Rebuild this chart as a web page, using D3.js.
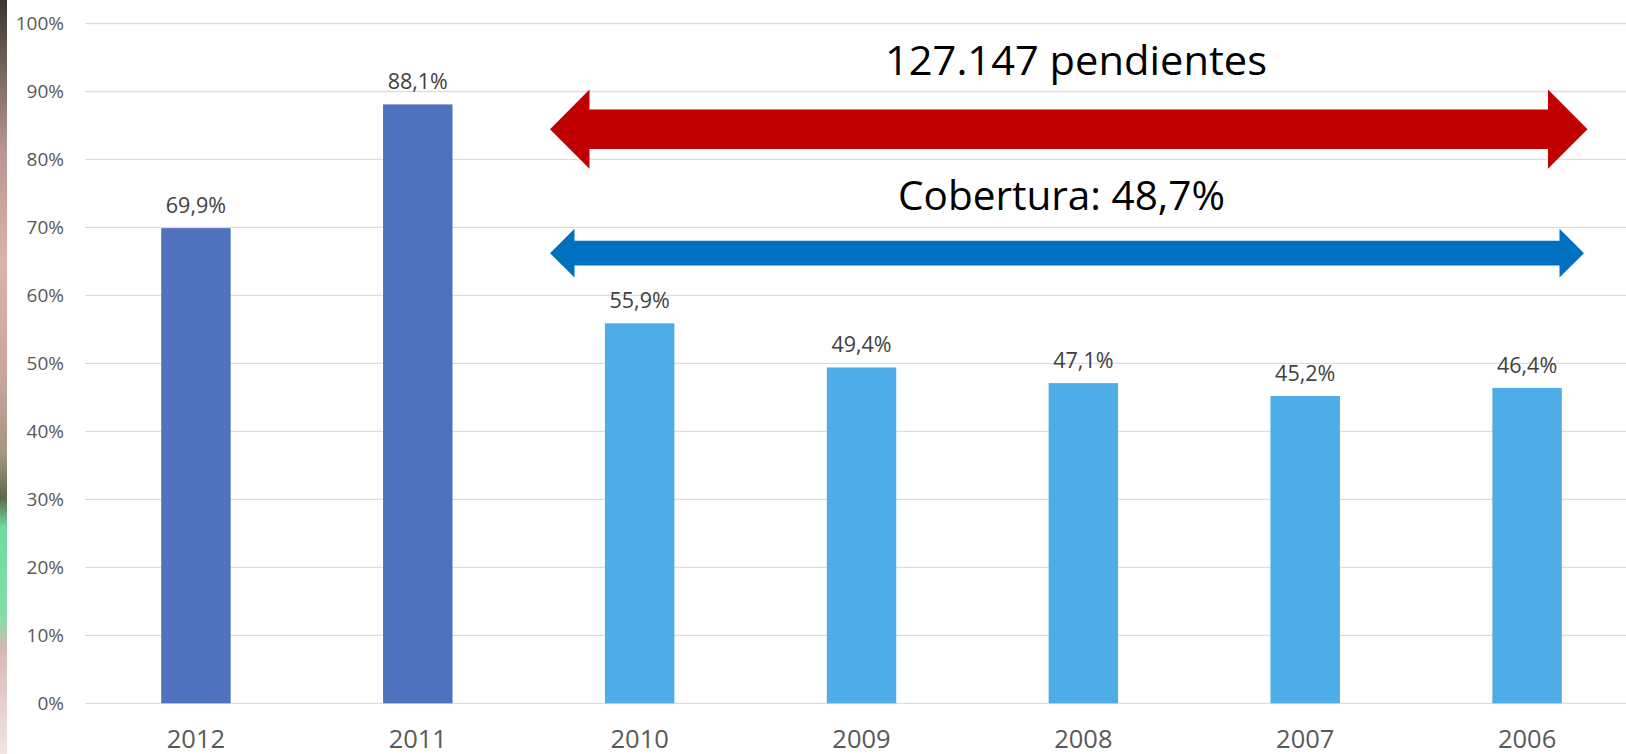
<!DOCTYPE html>
<html>
<head>
<meta charset="utf-8">
<script src="https://cdn.jsdelivr.net/npm/d3@7"></script>
<style>
  html, body { margin: 0; padding: 0; background: #fff; }
  svg { display: block; }
</style>
</head>
<body>
<svg id="chart" width="1626" height="754"></svg>
<script>
// ---- data ----
const categories = ["2012", "2011", "2010", "2009", "2008", "2007", "2006"];
const values = [0.699, 0.881, 0.559, 0.494, 0.471, 0.452, 0.464];
const valueLabels = ["69,9%", "88,1%", "55,9%", "49,4%", "47,1%", "45,2%", "46,4%"];
const groups = ["dark", "dark", "light", "light", "light", "light", "light"];
const yTicks = [0, 0.1, 0.2, 0.3, 0.4, 0.5, 0.6, 0.7, 0.8, 0.9, 1.0];
const yTickLabels = ["0%", "10%", "20%", "30%", "40%", "50%", "60%", "70%", "80%", "90%", "100%"];
const annotations = ["127.147 pendientes", "Cobertura: 48,7%"];

// ---- layout ----
const W = 1626, H = 754;
const plotLeft = 85, plotRight = 1638, plotTop = 23.5, plotBottom = 703.3;
const colors = { dark: "#5071BE", light: "#4EACE6" };

const svg = d3.select("#chart");

// left photo edge strip (decorative)
const defs = svg.append("defs");
const grad = defs.append("linearGradient").attr("id", "edge").attr("x1", 0).attr("y1", 0).attr("x2", 0).attr("y2", 1);
[[0, "#3b342e"], [0.08, "#6d5f55"], [0.2, "#b89890"], [0.35, "#d9b3ab"], [0.5, "#c8a69c"], [0.6, "#a79683"], [0.66, "#5f6a4e"], [0.7, "#6fdc9c"], [0.82, "#86dca6"], [0.86, "#d8b8b4"], [1, "#f2e4e2"]]
  .forEach(([o, c]) => grad.append("stop").attr("offset", o).attr("stop-color", c));
svg.append("rect").attr("x", 0).attr("y", 0).attr("width", 7).attr("height", H).attr("fill", "url(#edge)");

const x = d3.scaleBand().domain(categories).range([plotLeft, plotRight]).paddingInner(0.687).paddingOuter(0.3435);
const y = d3.scaleLinear().domain([0, 1]).range([plotBottom, plotTop]);

// gridlines
svg.append("g").selectAll("line").data(yTicks).join("line")
  .attr("x1", plotLeft).attr("x2", W)
  .attr("y1", d => y(d)).attr("y2", d => y(d))
  .attr("stroke", "#dedede").attr("stroke-width", 1.3);

// y axis labels
const yAxis = d3.axisLeft(y).tickValues(yTicks).tickSize(0).tickPadding(0)
  .tickFormat((d, i) => yTickLabels[i]);
const gy = svg.append("g").attr("transform", "translate(64,0)").call(yAxis);
gy.select(".domain").remove();
gy.selectAll("text").attr("font-family", "'Open Sans', sans-serif").attr("font-size", 19).attr("fill", "#595959");

// x axis labels
const xAxis = d3.axisBottom(x).tickSize(0).tickPadding(0);
const gx = svg.append("g").attr("transform", `translate(0,${plotBottom})`).call(xAxis);
gx.select(".domain").remove();
gx.selectAll("text").attr("font-family", "'Open Sans', sans-serif").attr("font-size", 25.5).attr("fill", "#595959")
  .attr("dy", null).attr("y", 44.5);

// bars
svg.append("g").selectAll("rect").data(categories).join("rect")
  .attr("x", d => x(d)).attr("width", x.bandwidth())
  .attr("y", (d, i) => y(values[i])).attr("height", (d, i) => y(0) - y(values[i]))
  .attr("fill", (d, i) => colors[groups[i]]);

// value labels
svg.append("g").selectAll("text").data(categories).join("text")
  .attr("x", d => x(d) + x.bandwidth() / 2)
  .attr("y", (d, i) => y(values[i]) - 15)
  .attr("text-anchor", "middle")
  .attr("font-family", "'Open Sans', sans-serif").attr("font-size", 21.5).attr("fill", "#404040")
  .text((d, i) => valueLabels[i]);

// double arrows
function arrowPath(x0, x1, cy, headLen, headHalf, shaftHalf) {
  return [
    [x0, cy], [x0 + headLen, cy - headHalf], [x0 + headLen, cy - shaftHalf],
    [x1 - headLen, cy - shaftHalf], [x1 - headLen, cy - headHalf], [x1, cy],
    [x1 - headLen, cy + headHalf], [x1 - headLen, cy + shaftHalf],
    [x0 + headLen, cy + shaftHalf], [x0 + headLen, cy + headHalf]
  ].map(p => p.join(",")).join(" ");
}
svg.append("polygon").attr("points", arrowPath(550, 1587.5, y(0.8445), 39.5, 39.6, 19.8)).attr("fill", "#C00000");
svg.append("polygon").attr("points", arrowPath(550, 1584, y(0.6622), 24.5, 24.4, 12.3)).attr("fill", "#0070C0");

// annotation texts
svg.append("text").attr("x", 1076).attr("y", 75).attr("text-anchor", "middle")
  .attr("font-family", "'Open Sans', sans-serif").attr("font-size", 41).attr("fill", "#000")
  .attr("textLength", 382).attr("lengthAdjust", "spacingAndGlyphs")
  .text(annotations[0]);
svg.append("text").attr("x", 1061.5).attr("y", 210).attr("text-anchor", "middle")
  .attr("font-family", "'Open Sans', sans-serif").attr("font-size", 41).attr("fill", "#000")
  .attr("textLength", 327).attr("lengthAdjust", "spacingAndGlyphs")
  .text(annotations[1]);
</script>
</body>
</html>
